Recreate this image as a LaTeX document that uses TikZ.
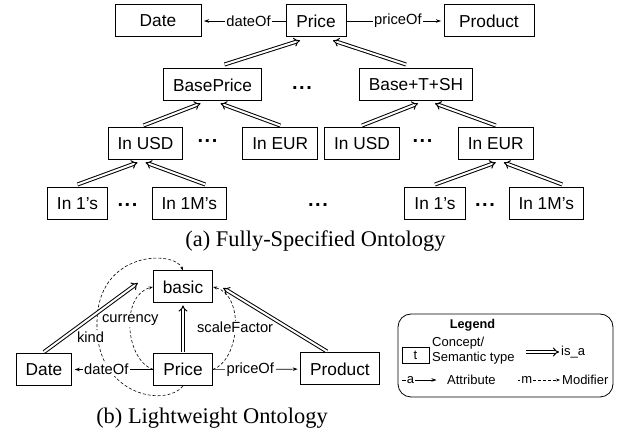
\documentclass[tikz,border=0pt]{standalone}
\usepackage{fontspec}
\setmainfont{Liberation Serif}
\setsansfont{Liberation Sans}
\usepackage{tikz}
\usetikzlibrary{positioning,arrows.meta}
\newcommand{\boxfont}{\sffamily\fontsize{17.3}{20}\selectfont}
\newcommand{\lblfont}{\sffamily\fontsize{14.7}{17}\selectfont}
\newcommand{\legfont}{\sffamily\fontsize{13}{15}\selectfont}
\newcommand{\capfont}{\rmfamily\fontsize{22.4}{26}\selectfont}
\newcommand{\moredots}{.\kern1.6pt.\kern1.6pt.}
\tikzset{concept/.style={draw,line width=1pt,font=\boxfont,minimum height=32pt,inner xsep=9.5pt,inner ysep=0pt},
         isa/.style={double,double distance=2pt,line width=1pt,-{Implies}},
         attrib/.style={line width=0.7pt,-{Stealth[length=5pt,width=3.5pt]},shorten >=2.5pt},
         modif/.style={line width=0.6pt,dash pattern=on 3pt off 2pt,-{Stealth[length=4pt,width=3pt]}},
         lbl/.style={fill=white,inner sep=1.5pt,font=\lblfont},
         more/.style={font=\sffamily\bfseries\fontsize{20}{20}\selectfont,inner sep=0pt}
}

\begin{document}
\begin{tikzpicture}[x=1pt,y=-1pt]
\useasboundingbox (0,0) rectangle (625,435);

% (a) fully specified
\node[concept,minimum width=60pt] (price) at (316,21) {Price};
\node[concept,minimum width=86pt,left=84pt of price] (date) {Date};
\node[concept,minimum width=90pt,right=97pt of price] (product) {Product};
\node[concept] (baseprice) at (212.5,85) {BasePrice};
\node[concept] (basetsh) at (416,85) {Base+T+SH};
\node[more] (dotsa) at (302,88) {\moredots};
\node[concept] (usda) at (145.5,143.5) {In USD};
\node[concept,right=59pt of usda] (eura) {In EUR};
\node[concept,right=6pt of eura] (usdb) {In USD};
\node[concept,right=58pt of usdb] (eurb) {In EUR};
\node[more] (dotsb) at (207.5,141) {\moredots};
\node[more] (dotsc) at (422.5,141) {\moredots};
\node[concept] (onea) at (77.5,203.5) {In 1’s};
\node[concept,right=43.5pt of onea] (milla) {In 1M’s};
\node[concept] (oneb) at (435,203.5) {In 1’s};
\node[concept,right=43pt of oneb] (millb) {In 1M’s};
\node[more] (dotsd) at (127.5,205) {\moredots};
\node[more] (dotse) at (318,205) {\moredots};
\node[more] (dotsf) at (485,205) {\moredots};
\node[font=\capfont,anchor=base] (capa) at (315.5,247) {(a) Fully-Specified Ontology};

\draw[attrib] (price) -- node[lbl,pos=0.44]{dateOf} (date);
\draw[attrib] (price) -- node[lbl,pos=0.53]{priceOf} (product);
\draw[isa] ([xshift=12pt,yshift=4pt]baseprice.north) -- ([xshift=-16pt,yshift=-3pt]price.south);
\draw[isa] ([xshift=-10pt,yshift=4pt]basetsh.north) -- ([xshift=17pt,yshift=-3pt]price.south);
\draw[isa] ([xshift=-2pt,yshift=1.5pt]usda.north) -- ([xshift=-12pt,yshift=-2pt]baseprice.south);
\draw[isa] ([yshift=1.5pt]eura.north) -- ([xshift=8pt,yshift=-2pt]baseprice.south);
\draw[isa] ([yshift=1.5pt]usdb.north) -- ([xshift=2pt,yshift=-2pt]basetsh.south);
\draw[isa] ([yshift=1.5pt]eurb.north) -- ([xshift=19pt,yshift=-2pt]basetsh.south);
\draw[isa] ([yshift=2.5pt]onea.north) -- ([xshift=-8pt,yshift=-2.5pt]usda.south);
\draw[isa] ([xshift=16pt,yshift=2.5pt]milla.north) -- ([yshift=-2.5pt]usda.south);
\draw[isa] ([yshift=2.5pt]oneb.north) -- ([yshift=-2.5pt]eurb.south);
\draw[isa] ([xshift=16pt,yshift=2.5pt]millb.north) -- ([xshift=8pt,yshift=-2.5pt]eurb.south);

% (b) lightweight
\node[concept] (basic) at (183,287) {basic};
\node[concept] (dateb) at (44,369.5) {Date};
\node[concept] (priceb) at (183,369.5) {Price};
\node[concept] (productb) at (340,369) {Product};
\node[font=\capfont,anchor=base] (capb) at (212,424) {(b) Lightweight Ontology};

\draw[modif] (priceb.south) .. controls (165,408) and (95,395) .. (97,323) node[lbl,pos=0.93,xshift=-7pt]{kind}
    .. controls (97,250) and (175,250) .. (basic.north);
\draw[modif] (priceb.west) .. controls (125,360) and (120,295) .. node[lbl,pos=0.57]{currency} (basic.west);
\draw[modif] (priceb.east) .. controls (240,360) and (245,295) .. node[lbl,pos=0.5]{scaleFactor} (basic.east);
\draw[attrib] (priceb) -- node[lbl,pos=0.58]{dateOf} (dateb);
\draw[attrib] (priceb) -- node[lbl,pos=0.43]{priceOf} (productb);
\draw[isa] ([yshift=1pt]dateb.north) -- ([xshift=-15pt,yshift=4pt]basic.west);
\draw[isa] ([yshift=1pt]priceb.north) -- ([yshift=-2pt]basic.south);
\draw[isa] ([xshift=-13pt,yshift=1pt]productb.north) -- ([xshift=10pt,yshift=-1pt]basic.east);

% legend
\node[draw,line width=0.8pt,rounded corners=13pt,minimum width=215pt,minimum height=83pt] (legend) at (505.5,355.5) {};
\node[font=\sffamily\bfseries\fontsize{12.7}{15}\selectfont] (legtitle) at (472.5,325) {Legend};
\node[draw,line width=0.8pt,minimum width=27pt,minimum height=16pt,inner sep=0pt,font=\legfont] (tbox) at (415.5,355) {t};
\node[font=\legfont,align=left,anchor=west,inner sep=0pt] (conctext) at (432,350.5) {Concept/\\Semantic type};
\coordinate (isafrom) at (526,352);
\coordinate (isato) at (559,352);
\draw[isa] (isafrom) -- (isato);
\node[font=\legfont,anchor=west,inner sep=0pt] (isatext) at (561,352) {is\_a};
\coordinate (attfrom) at (402,380);
\coordinate (attto) at (439,380);
\draw[attrib] (attfrom) -- node[lbl,font=\legfont,pos=0.23,inner sep=1pt]{a} (attto);
\node[font=\legfont,anchor=west,inner sep=0pt] (atttext) at (447,380) {Attribute};
\coordinate (modfrom) at (518,380);
\coordinate (modto) at (560,380);
\draw[modif] (modfrom) -- node[lbl,font=\legfont,pos=0.21,inner sep=1pt]{m} (modto);
\node[font=\legfont,anchor=west,inner sep=0pt] (modtext) at (562,380) {Modifier};
\end{tikzpicture}
\end{document}
